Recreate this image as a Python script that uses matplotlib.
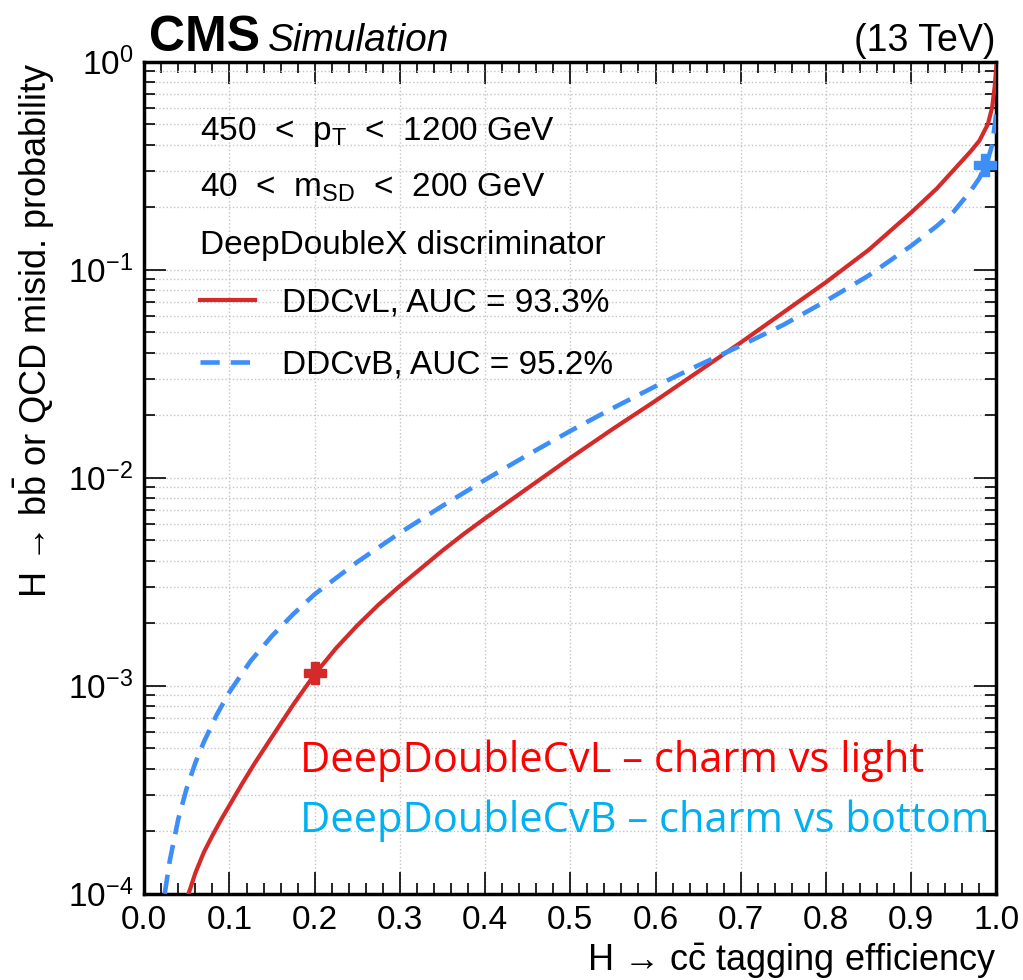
import numpy as np
import matplotlib
matplotlib.use("Agg")
import matplotlib.pyplot as plt
from matplotlib.ticker import LogLocator, MultipleLocator, NullFormatter

plt.rcParams['font.family'] = ['Liberation Sans', 'DejaVu Sans']
plt.rcParams['mathtext.fontset'] = 'custom'
plt.rcParams['mathtext.rm'] = 'Liberation Sans'
plt.rcParams['mathtext.it'] = 'Liberation Sans:italic'
plt.rcParams['mathtext.bf'] = 'Liberation Sans:bold'

# ROC curves (efficiency, log10 of misid. probability)
eff_cvl = [0.052, 0.06, 0.07, 0.08, 0.09, 0.1, 0.115, 0.13, 0.15, 0.175, 0.2, 0.225, 0.25,
           0.275, 0.3, 0.325, 0.35, 0.375, 0.4, 0.45, 0.5, 0.55, 0.6, 0.65, 0.7, 0.75, 0.8,
           0.85, 0.9, 0.93, 0.95, 0.97, 0.98, 0.99, 0.995, 0.998, 1.0]
logmis_cvl = [-4.0, -3.9, -3.8, -3.72, -3.645, -3.575, -3.47, -3.37, -3.245, -3.09, -2.945,
              -2.82, -2.71, -2.61, -2.52, -2.435, -2.35, -2.27, -2.195, -2.05, -1.905, -1.765,
              -1.63, -1.49, -1.35, -1.205, -1.06, -0.905, -0.725, -0.61, -0.52, -0.43, -0.38,
              -0.3, -0.22, -0.12, -0.02]

eff_cvb = [0.024, 0.03, 0.04, 0.05, 0.06, 0.07, 0.085, 0.1, 0.125, 0.15, 0.175, 0.2, 0.25,
           0.3, 0.35, 0.4, 0.45, 0.5, 0.55, 0.6, 0.65, 0.7, 0.75, 0.8, 0.85, 0.9, 0.93, 0.95,
           0.97, 0.98, 0.99, 0.995, 1.0]
logmis_cvb = [-4.0, -3.84, -3.64, -3.49, -3.37, -3.27, -3.14, -3.03, -2.88, -2.76, -2.655,
              -2.56, -2.405, -2.265, -2.135, -2.01, -1.89, -1.775, -1.665, -1.56, -1.46,
              -1.365, -1.265, -1.15, -1.028, -0.885, -0.79, -0.72, -0.62, -0.56, -0.47, -0.4,
              -0.24]

# working points
wp_cvl = (0.2, 1.15e-3)
wp_cvb = (0.987, 0.32)

red = '#d42a2a'
blue = '#3d8ef8'

fig = plt.figure(figsize=(10.23, 9.80), dpi=100)
ax = fig.add_axes([0.141, 0.088, 0.833, 0.849])

ax.plot(eff_cvl, 10 ** np.array(logmis_cvl), color=red, lw=3, label='DDCvL, AUC = 93.3%', zorder=3)
ax.plot(eff_cvb, 10 ** np.array(logmis_cvb), color=blue, lw=3.3, ls=(0, (4.2, 2.4)),
        label='DDCvB, AUC = 95.2%', zorder=3)
ax.plot(*wp_cvl, marker='P', ms=16, color=red, mec=red, zorder=4, clip_on=False)
ax.plot(*wp_cvb, marker='P', ms=16, color=blue, mec=blue, zorder=4, clip_on=False)

ax.set_yscale('log')
ax.set_xlim(0, 1)
ax.set_ylim(1e-4, 1)
ax.xaxis.set_major_locator(MultipleLocator(0.1))
ax.xaxis.set_minor_locator(MultipleLocator(0.02))
ax.yaxis.set_major_locator(LogLocator(base=10, numticks=10))
ax.yaxis.set_minor_locator(LogLocator(base=10, subs=np.arange(2, 10), numticks=20))
ax.yaxis.set_minor_formatter(NullFormatter())
ax.xaxis.set_major_formatter(plt.FuncFormatter(lambda v, p: '%.1f' % v))

ax.tick_params(which='both', direction='in', top=True, right=True, labelsize=24, width=1.2)
ax.tick_params(which='major', length=16, pad=8)
ax.tick_params(which='minor', length=8)
for s in ax.spines.values():
    s.set_linewidth(2.5)

ax.grid(True, which='major', axis='x', ls=':', color='#c4c4c4', lw=1)
ax.grid(True, which='both', axis='y', ls=':', color='#c4c4c4', lw=1)

ax.set_xlabel('H \u2192 c$\\bar{\\rm c}$ tagging efficiency', fontsize=26, loc='right', labelpad=4)
ax.set_ylabel('H \u2192 b$\\bar{\\rm b}$ or QCD misid. probability', fontsize=26, loc='top', labelpad=8)

# header
fig.text(0.146, 0.948, 'CMS', fontsize=36, fontweight='bold', va='baseline')
fig.text(0.262, 0.948, 'Simulation', fontsize=28, style='italic', va='baseline')
fig.text(0.973, 0.948, '(13 TeV)', fontsize=27, ha='right', va='baseline')

# info text
ax.text(0.066, 0.906, r'450  <  p$_{\rm T}$  <  1200 GeV', transform=ax.transAxes, fontsize=24)
ax.text(0.066, 0.838, r'40  <  m$_{\rm SD}$  <  200 GeV', transform=ax.transAxes, fontsize=24)
ax.text(0.066, 0.769, 'DeepDoubleX discriminator', transform=ax.transAxes, fontsize=24)
ax.legend(loc='upper left', bbox_to_anchor=(0.066, 0.729), frameon=False, fontsize=24,
          handlelength=1.65, handletextpad=0.8, labelspacing=0.95, borderpad=0, borderaxespad=0)

# overlay annotation
ax.text(0.183, 0.146, 'DeepDoubleCvL \u2013 charm vs light', transform=ax.transAxes,
        fontsize=30, color='#ff0000', family=['Open Sans', 'DejaVu Sans'])
ax.text(0.183, 0.074, 'DeepDoubleCvB \u2013 charm vs bottom', transform=ax.transAxes,
        fontsize=30, color='#00b0f0', family=['Open Sans', 'DejaVu Sans'])

fig.savefig('out.png', dpi=100)
